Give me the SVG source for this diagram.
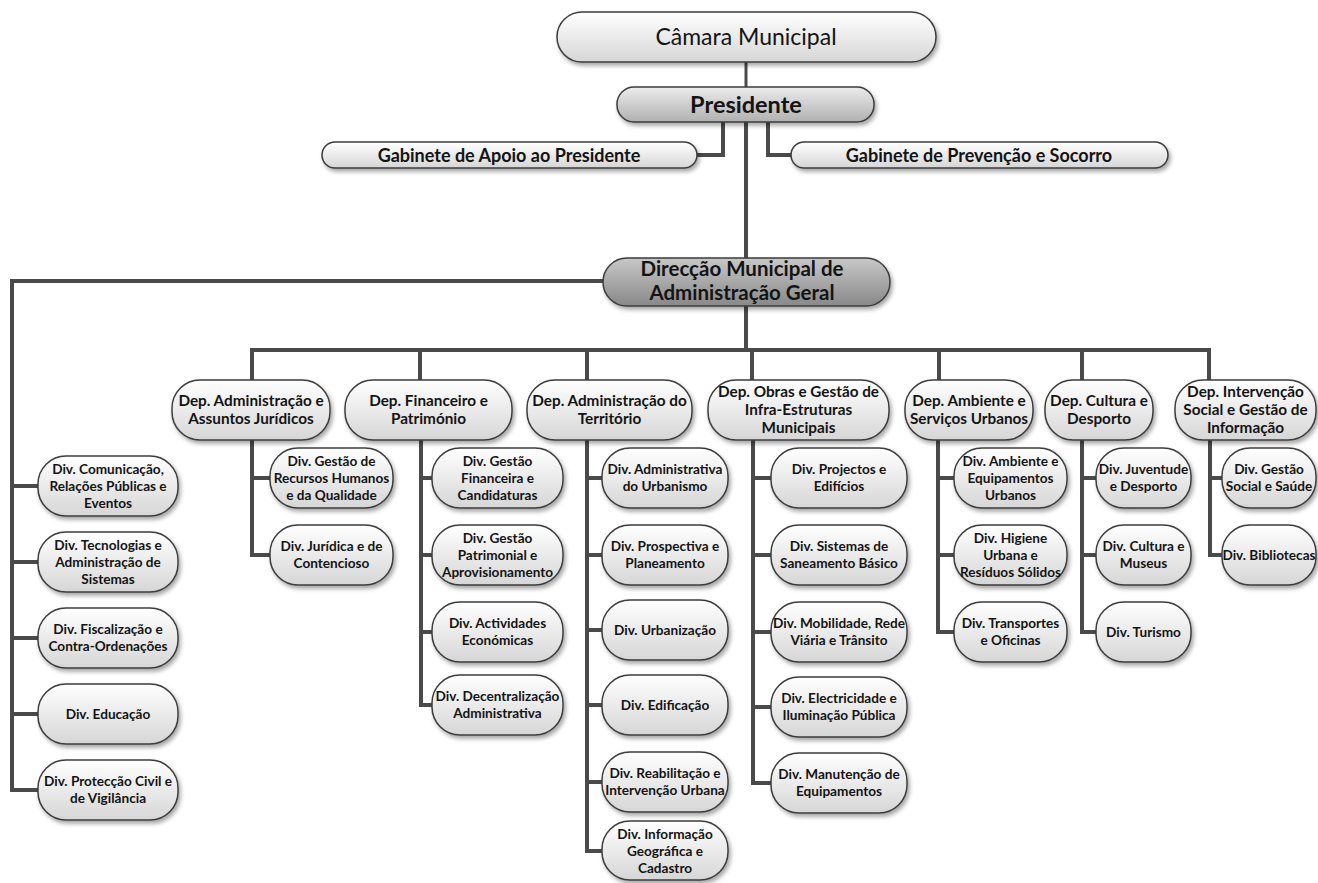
<svg xmlns="http://www.w3.org/2000/svg" width="1318" height="883" viewBox="0 0 1318 883">
<defs>
<linearGradient id="gN" x1="0" y1="0" x2="0" y2="1"><stop offset="0" stop-color="#ffffff"/><stop offset="1" stop-color="#d6d6d6"/></linearGradient>
<linearGradient id="gP" x1="0" y1="0" x2="0" y2="1"><stop offset="0" stop-color="#ececec"/><stop offset="1" stop-color="#b0b0b0"/></linearGradient>
<linearGradient id="gD" x1="0" y1="0" x2="0" y2="1"><stop offset="0" stop-color="#c8c8c8"/><stop offset="1" stop-color="#888888"/></linearGradient>
<filter id="sh" x="-10%" y="-20%" width="125%" height="150%"><feDropShadow dx="2" dy="3" stdDeviation="2" flood-color="#000" flood-opacity="0.35"/></filter>
<style>
.b{fill:url(#gN);stroke:#3c3c3c;stroke-width:1.5;filter:url(#sh)}
.p{fill:url(#gP);stroke:#3c3c3c;stroke-width:1.5;filter:url(#sh)}
.d{fill:url(#gD);stroke:#3c3c3c;stroke-width:1.5;filter:url(#sh)}
text{font-family:Lato,"Open Sans","DejaVu Sans",sans-serif;fill:#141414;text-anchor:middle}
.t1{font-size:23px}
.tp{font-size:23.5px;font-weight:bold}
.tg{font-size:18px;font-weight:bold}
.td{font-size:20.5px;font-weight:bold}
.tdep{font-size:15.3px;font-weight:bold}
.tv{font-size:13.6px;font-weight:bold}
.c{fill:none;stroke:#4a4a4a;stroke-width:4}
.c2{fill:none;stroke:#4a4a4a;stroke-width:3}
</style>
</defs>

<g id="connectors">
<path class="c2" d="M746,62V87"/>
<path class="c" d="M746,122V258"/>
<path class="c" d="M723,122V155H697"/>
<path class="c" d="M768,122V155H791"/>
<path class="c" d="M603,281H12V790H38"/>
<path class="c" d="M12,486H38M12,562H38M12,638H38M12,714H38"/>
<path class="c" d="M746,306V350"/>
<path class="c" d="M252,380V350H1209V380M420,350V380M587,350V380M752,350V380M939,350V380M1082,350V380"/>
<path class="c" d="M252,440V555H270M252,478H270"/>
<path class="c" d="M421,440V705H432M421,478H432M421,555H432M421,632H432"/>
<path class="c" d="M587,440V851H602M587,478H602M587,555H602M587,630H602M587,705H602M587,782H602"/>
<path class="c" d="M753,440V783H771M753,478H771M753,555H771M753,632H771M753,707H771"/>
<path class="c" d="M938,440V632H954M938,478H954M938,555H954"/>
<path class="c" d="M1082,440V632H1096M1082,478H1096M1082,555H1096"/>
<path class="c" d="M1210,440V555H1222M1210,478H1222"/>
</g>

<g id="camara"><rect class="b" x="557" y="12" width="379" height="50" rx="25"/><text class="t1" x="746" y="45">Câmara Municipal</text></g>
<g id="presidente"><rect class="p" x="617" y="87" width="257" height="35" rx="17"/><text class="tp" x="746" y="112.5">Presidente</text></g>
<g id="gab-apoio"><rect class="b" x="322" y="142" width="375" height="26" rx="13"/><text class="tg" x="509" y="161.5">Gabinete de Apoio ao Presidente</text></g>
<g id="gab-prevencao"><rect class="b" x="791" y="142" width="377" height="26" rx="13"/><text class="tg" x="979" y="161.5">Gabinete de Prevenção e Socorro</text></g>
<g id="direccao"><rect class="d" x="603" y="258" width="287" height="48" rx="24"/><text class="td" x="742" y="276">Direcção Municipal de</text><text class="td" x="742" y="300">Administração Geral</text></g>

<g id="dep-admin"><rect class="b" x="172" y="380" width="158" height="60" rx="28"/><text class="tdep" x="251" y="406">Dep. Administração e</text><text class="tdep" x="251" y="424">Assuntos Jurídicos</text></g>
<g id="dep-fin"><rect class="b" x="345" y="380" width="167" height="60" rx="28"/><text class="tdep" x="428.5" y="406">Dep. Financeiro e</text><text class="tdep" x="428.5" y="424">Património</text></g>
<g id="dep-terr"><rect class="b" x="527" y="380" width="165" height="60" rx="28"/><text class="tdep" x="609.5" y="406">Dep. Administração do</text><text class="tdep" x="609.5" y="424">Território</text></g>
<g id="dep-obras"><rect class="b" x="708" y="380" width="181" height="60" rx="28"/><text class="tdep" x="798.5" y="397">Dep. Obras e Gestão de</text><text class="tdep" x="798.5" y="415">Infra-Estruturas</text><text class="tdep" x="798.5" y="433">Municipais</text></g>
<g id="dep-amb"><rect class="b" x="905" y="380" width="128" height="60" rx="28"/><text class="tdep" x="969" y="406">Dep. Ambiente e</text><text class="tdep" x="969" y="424">Serviços Urbanos</text></g>
<g id="dep-cult"><rect class="b" x="1045" y="380" width="108" height="60" rx="28"/><text class="tdep" x="1099" y="406">Dep. Cultura e</text><text class="tdep" x="1099" y="424">Desporto</text></g>
<g id="dep-int"><rect class="b" x="1175" y="380" width="141" height="60" rx="28"/><text class="tdep" x="1245.5" y="397">Dep. Intervenção</text><text class="tdep" x="1245.5" y="415">Social e Gestão de</text><text class="tdep" x="1245.5" y="433">Informação</text></g>

<g id="div-comunicacao"><rect class="b" x="38" y="456" width="140" height="60" rx="28"/><text class="tv" x="108" y="473.5">Div. Comunicação,</text><text class="tv" x="108" y="490.5">Relações Públicas e</text><text class="tv" x="108" y="507.5">Eventos</text></g>
<g id="div-tecnologias"><rect class="b" x="38" y="532" width="140" height="60" rx="28"/><text class="tv" x="108" y="549.5">Div. Tecnologias e</text><text class="tv" x="108" y="566.5">Administração de</text><text class="tv" x="108" y="583.5">Sistemas</text></g>
<g id="div-fiscalizacao"><rect class="b" x="38" y="608" width="140" height="60" rx="28"/><text class="tv" x="108" y="634">Div. Fiscalização e</text><text class="tv" x="108" y="651">Contra-Ordenações</text></g>
<g id="div-educacao"><rect class="b" x="38" y="684" width="140" height="60" rx="28"/><text class="tv" x="108" y="718.5">Div. Educação</text></g>
<g id="div-proteccao"><rect class="b" x="38" y="760" width="140" height="60" rx="28"/><text class="tv" x="108" y="786">Div. Protecção Civil e</text><text class="tv" x="108" y="803">de Vigilância</text></g>

<g id="div-rh"><rect class="b" x="270" y="448" width="123" height="60" rx="28"/><text class="tv" x="331.5" y="465.5">Div. Gestão de</text><text class="tv" x="331.5" y="482.5">Recursos Humanos</text><text class="tv" x="331.5" y="499.5">e da Qualidade</text></g>
<g id="div-juridica"><rect class="b" x="270" y="525" width="123" height="60" rx="28"/><text class="tv" x="331.5" y="551">Div. Jurídica e de</text><text class="tv" x="331.5" y="568">Contencioso</text></g>

<g id="div-gest-fin"><rect class="b" x="432" y="448" width="131" height="60" rx="28"/><text class="tv" x="497.5" y="465.5">Div. Gestão</text><text class="tv" x="497.5" y="482.5">Financeira e</text><text class="tv" x="497.5" y="499.5">Candidaturas</text></g>
<g id="div-gest-pat"><rect class="b" x="432" y="525" width="131" height="60" rx="28"/><text class="tv" x="497.5" y="542.5">Div. Gestão</text><text class="tv" x="497.5" y="559.5">Patrimonial e</text><text class="tv" x="497.5" y="576.5">Aprovisionamento</text></g>
<g id="div-actividades"><rect class="b" x="432" y="602" width="131" height="60" rx="28"/><text class="tv" x="497.5" y="628">Div. Actividades</text><text class="tv" x="497.5" y="645">Económicas</text></g>
<g id="div-decentralizacao"><rect class="b" x="432" y="675" width="131" height="60" rx="28"/><text class="tv" x="497.5" y="701">Div. Decentralização</text><text class="tv" x="497.5" y="718">Administrativa</text></g>

<g id="div-adm-urb"><rect class="b" x="602" y="448" width="126" height="60" rx="28"/><text class="tv" x="665" y="474">Div. Administrativa</text><text class="tv" x="665" y="491">do Urbanismo</text></g>
<g id="div-prospectiva"><rect class="b" x="602" y="525" width="126" height="60" rx="28"/><text class="tv" x="665" y="551">Div. Prospectiva e</text><text class="tv" x="665" y="568">Planeamento</text></g>
<g id="div-urbanizacao"><rect class="b" x="602" y="600" width="126" height="60" rx="28"/><text class="tv" x="665" y="634.5">Div. Urbanização</text></g>
<g id="div-edificacao"><rect class="b" x="602" y="675" width="126" height="60" rx="28"/><text class="tv" x="665" y="709.5">Div. Edificação</text></g>
<g id="div-reabilitacao"><rect class="b" x="602" y="752" width="126" height="60" rx="28"/><text class="tv" x="665" y="778">Div. Reabilitação e</text><text class="tv" x="665" y="795">Intervenção Urbana</text></g>
<g id="div-informacao"><rect class="b" x="602" y="821" width="126" height="59" rx="28"/><text class="tv" x="665" y="838.5">Div. Informação</text><text class="tv" x="665" y="855.5">Geográfica e</text><text class="tv" x="665" y="872.5">Cadastro</text></g>

<g id="div-projectos"><rect class="b" x="771" y="448" width="136" height="60" rx="28"/><text class="tv" x="839" y="474">Div. Projectos e</text><text class="tv" x="839" y="491">Edifícios</text></g>
<g id="div-saneamento"><rect class="b" x="771" y="525" width="136" height="60" rx="28"/><text class="tv" x="839" y="551">Div. Sistemas de</text><text class="tv" x="839" y="568">Saneamento Básico</text></g>
<g id="div-mobilidade"><rect class="b" x="771" y="602" width="136" height="60" rx="28"/><text class="tv" x="839" y="628">Div. Mobilidade, Rede</text><text class="tv" x="839" y="645">Viária e Trânsito</text></g>
<g id="div-electricidade"><rect class="b" x="771" y="677" width="136" height="60" rx="28"/><text class="tv" x="839" y="703">Div. Electricidade e</text><text class="tv" x="839" y="720">Iluminação Pública</text></g>
<g id="div-manutencao"><rect class="b" x="771" y="753" width="136" height="60" rx="28"/><text class="tv" x="839" y="779">Div. Manutenção de</text><text class="tv" x="839" y="796">Equipamentos</text></g>

<g id="div-ambiente"><rect class="b" x="954" y="448" width="113" height="60" rx="28"/><text class="tv" x="1010.5" y="465.5">Div. Ambiente e</text><text class="tv" x="1010.5" y="482.5">Equipamentos</text><text class="tv" x="1010.5" y="499.5">Urbanos</text></g>
<g id="div-higiene"><rect class="b" x="954" y="525" width="113" height="60" rx="28"/><text class="tv" x="1010.5" y="542.5">Div. Higiene</text><text class="tv" x="1010.5" y="559.5">Urbana e</text><text class="tv" x="1010.5" y="576.5">Resíduos Sólidos</text></g>
<g id="div-transportes"><rect class="b" x="954" y="602" width="113" height="60" rx="28"/><text class="tv" x="1010.5" y="628">Div. Transportes</text><text class="tv" x="1010.5" y="645">e Oficinas</text></g>

<g id="div-juventude"><rect class="b" x="1096" y="448" width="95" height="60" rx="28"/><text class="tv" x="1143.5" y="474">Div. Juventude</text><text class="tv" x="1143.5" y="491">e Desporto</text></g>
<g id="div-cultura"><rect class="b" x="1096" y="525" width="95" height="60" rx="28"/><text class="tv" x="1143.5" y="551">Div. Cultura e</text><text class="tv" x="1143.5" y="568">Museus</text></g>
<g id="div-turismo"><rect class="b" x="1096" y="602" width="95" height="60" rx="28"/><text class="tv" x="1143.5" y="636.5">Div. Turismo</text></g>

<g id="div-gest-social"><rect class="b" x="1222" y="448" width="94" height="60" rx="28"/><text class="tv" x="1269" y="474">Div. Gestão</text><text class="tv" x="1269" y="491">Social e Saúde</text></g>
<g id="div-bibliotecas"><rect class="b" x="1222" y="525" width="94" height="60" rx="28"/><text class="tv" x="1269" y="559.5">Div. Bibliotecas</text></g>
</svg>
